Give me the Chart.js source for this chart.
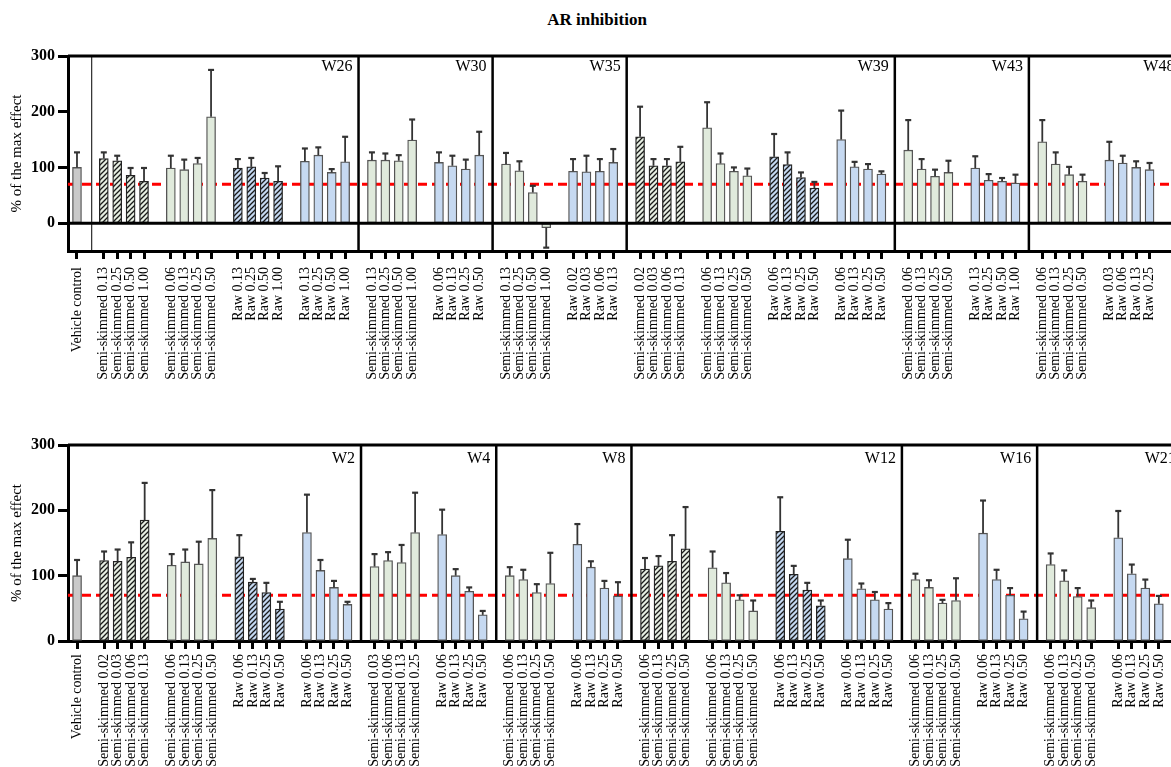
<!DOCTYPE html>
<html>
<head>
<meta charset="utf-8">
<script src="https://cdn.jsdelivr.net/npm/chart.js@4.4.1/dist/chart.umd.min.js"></script>
<style>
  html, body { margin: 0; padding: 0; background: #fff; }
  body { width: 1171px; height: 767px; position: relative; overflow: hidden; }
  #title { position: absolute; left: 597px; top: 10px; transform: translateX(-50%);
           font: bold 17px 'Liberation Serif', 'Times New Roman', serif; color: #000; }
  canvas { position: absolute; left: 0; }
  #topChart { top: 0; }
  #bottomChart { top: 395px; }
</style>
</head>
<body>
<div id="title">AR inhibition</div>
<canvas id="topChart" width="1171" height="395"></canvas>
<canvas id="bottomChart" width="1171" height="372"></canvas>
<script>
// AR inhibition - two panels, bars placed in slots: vehicle, gap, then groups of 4 with one gap between

// ---- top panel data
const topSections = ['W26', 'W30', 'W35', 'W39', 'W43', 'W48'];
const topSectionGroups = [4, 2, 2, 4, 2, 2];
const topGroupKinds = ['semiHatch', 'semi', 'rawHatch', 'raw', 'semi', 'raw', 'semi', 'raw',
  'semiHatch', 'semi', 'rawHatch', 'raw', 'semi', 'raw', 'semi', 'raw'];
const topLabels = [
  'Vehicle control',
  'Semi-skimmed 0.13', 'Semi-skimmed 0.25', 'Semi-skimmed 0.50', 'Semi-skimmed 1.00',
  'Semi-skimmed 0.06', 'Semi-skimmed 0.13', 'Semi-skimmed 0.25', 'Semi-skimmed 0.50',
  'Raw 0.13', 'Raw 0.25', 'Raw 0.50', 'Raw 1.00',
  'Raw 0.13', 'Raw 0.25', 'Raw 0.50', 'Raw 1.00',
  'Semi-skimmed 0.13', 'Semi-skimmed 0.25', 'Semi-skimmed 0.50', 'Semi-skimmed 1.00',
  'Raw 0.06', 'Raw 0.13', 'Raw 0.25', 'Raw 0.50',
  'Semi-skimmed 0.13', 'Semi-skimmed 0.25', 'Semi-skimmed 0.50', 'Semi-skimmed 1.00',
  'Raw 0.02', 'Raw 0.03', 'Raw 0.06', 'Raw 0.13',
  'Semi-skimmed 0.02', 'Semi-skimmed 0.03', 'Semi-skimmed 0.06', 'Semi-skimmed 0.13',
  'Semi-skimmed 0.06', 'Semi-skimmed 0.13', 'Semi-skimmed 0.25', 'Semi-skimmed 0.50',
  'Raw 0.06', 'Raw 0.13', 'Raw 0.25', 'Raw 0.50',
  'Raw 0.06', 'Raw 0.13', 'Raw 0.25', 'Raw 0.50',
  'Semi-skimmed 0.06', 'Semi-skimmed 0.13', 'Semi-skimmed 0.25', 'Semi-skimmed 0.50',
  'Raw 0.13', 'Raw 0.25', 'Raw 0.50', 'Raw 1.00',
  'Semi-skimmed 0.06', 'Semi-skimmed 0.13', 'Semi-skimmed 0.25', 'Semi-skimmed 0.50',
  'Raw 0.03', 'Raw 0.06', 'Raw 0.13', 'Raw 0.25'
];
const topValues = [100,
  116, 112, 86, 75, 99, 96, 107, 191, 99, 101, 81, 75, 111, 122, 91, 110,
  113, 113, 112, 149, 109, 103, 97, 122,
  106, 94, 55, -8, 93, 92, 93, 109,
  155, 103, 103, 110, 171, 107, 93, 85, 119, 105, 82, 63, 150, 101, 97, 88,
  131, 97, 84, 91, 99, 77, 75, 72,
  146, 106, 87, 75, 113, 108, 100, 96];
const topErrors = [27,
  11, 9, 13, 24, 22, 18, 10, 84, 16, 16, 9, 27, 23, 14, 6, 45,
  14, 12, 10, 37, 18, 18, 17, 42,
  20, 17, 12, 36, 22, 29, 22, 24,
  54, 12, 12, 27, 46, 18, 7, 13, 41, 22, 9, 11, 52, 9, 9, 5,
  54, 18, 12, 21, 21, 11, 6, 15,
  39, 21, 14, 12, 33, 13, 11, 12];

// ---- bottom panel data
const bottomSections = ['W2', 'W4', 'W8', 'W12', 'W16', 'W21'];
const bottomSectionGroups = [4, 2, 2, 4, 2, 2];
const bottomGroupKinds = ['semiHatch', 'semi', 'rawHatch', 'raw', 'semi', 'raw', 'semi', 'raw',
  'semiHatch', 'semi', 'rawHatch', 'raw', 'semi', 'raw', 'semi', 'raw'];
const bottomLabels = [
  'Vehicle control',
  'Semi-skimmed 0.02', 'Semi-skimmed 0.03', 'Semi-skimmed 0.06', 'Semi-skimmed 0.13',
  'Semi-skimmed 0.06', 'Semi-skimmed 0.13', 'Semi-skimmed 0.25', 'Semi-skimmed 0.50',
  'Raw 0.06', 'Raw 0.13', 'Raw 0.25', 'Raw 0.50',
  'Raw 0.06', 'Raw 0.13', 'Raw 0.25', 'Raw 0.50',
  'Semi-skimmed 0.03', 'Semi-skimmed 0.06', 'Semi-skimmed 0.13', 'Semi-skimmed 0.25',
  'Raw 0.06', 'Raw 0.13', 'Raw 0.25', 'Raw 0.50',
  'Semi-skimmed 0.06', 'Semi-skimmed 0.13', 'Semi-skimmed 0.25', 'Semi-skimmed 0.50',
  'Raw 0.06', 'Raw 0.13', 'Raw 0.25', 'Raw 0.50',
  'Semi-skimmed 0.06', 'Semi-skimmed 0.13', 'Semi-skimmed 0.25', 'Semi-skimmed 0.50',
  'Semi-skimmed 0.06', 'Semi-skimmed 0.13', 'Semi-skimmed 0.25', 'Semi-skimmed 0.50',
  'Raw 0.06', 'Raw 0.13', 'Raw 0.25', 'Raw 0.50',
  'Raw 0.06', 'Raw 0.13', 'Raw 0.25', 'Raw 0.50',
  'Semi-skimmed 0.06', 'Semi-skimmed 0.13', 'Semi-skimmed 0.25', 'Semi-skimmed 0.50',
  'Raw 0.06', 'Raw 0.13', 'Raw 0.25', 'Raw 0.50',
  'Semi-skimmed 0.06', 'Semi-skimmed 0.13', 'Semi-skimmed 0.25', 'Semi-skimmed 0.50',
  'Raw 0.06', 'Raw 0.13', 'Raw 0.25', 'Raw 0.50'
];
const bottomValues = [100,
  123, 122, 128, 185, 116, 121, 118, 157, 129, 90, 74, 49, 166, 108, 82, 56,
  114, 123, 120, 166, 163, 100, 76, 40,
  100, 94, 74, 88, 148, 113, 81, 69,
  110, 115, 122, 141, 112, 89, 63, 46, 168, 102, 78, 54, 126, 80, 63, 49,
  94, 82, 58, 62, 165, 94, 70, 34,
  117, 92, 68, 51, 158, 103, 81, 57];
const bottomErrors = [24,
  14, 18, 23, 57, 17, 19, 34, 74, 33, 5, 15, 11, 58, 16, 10, 4,
  19, 13, 27, 61, 38, 10, 6, 6,
  13, 15, 13, 47, 31, 9, 11, 21,
  17, 15, 40, 64, 25, 15, 7, 16, 52, 13, 11, 8, 29, 8, 12, 9,
  9, 11, 5, 34, 50, 15, 11, 11,
  17, 16, 13, 11, 41, 14, 13, 12];

const threshold = 70;
const yTicks = [0, 100, 200, 300];

const SERIF = "'Liberation Serif', 'Times New Roman', serif";

function hatch(bg) {
  const c = document.createElement('canvas');
  c.width = 5; c.height = 5;
  const g = c.getContext('2d');
  g.fillStyle = bg;
  g.fillRect(0, 0, 5, 5);
  g.strokeStyle = '#1a1a1a';
  g.lineWidth = 1.3;
  g.beginPath();
  g.moveTo(-1, 6); g.lineTo(6, -1);
  g.moveTo(-1, 1); g.lineTo(1, -1);
  g.moveTo(4, 6); g.lineTo(6, 4);
  g.stroke();
  return g.createPattern(c, 'repeat');
}

const kindStyle = {
  vehicle:   { fill: '#c9c9c9', border: '#555' },
  semiHatch: { fill: hatch('#e6eee2'), border: '#222' },
  semi:      { fill: '#e0eadc', border: '#555' },
  rawHatch:  { fill: hatch('#c4d8f1'), border: '#222' },
  raw:       { fill: '#c6d9f1', border: '#555' }
};

// Red dashed threshold line, error bars, frame, section separators and W-labels
const panelDeco = {
  id: 'panelDeco',
  beforeDatasetsDraw(chart) {
    const { ctx, chartArea: a, scales: { y } } = chart;
    const yy = y.getPixelForValue(threshold);
    ctx.save();
    ctx.strokeStyle = '#ff0000';
    ctx.lineWidth = 3;
    ctx.setLineDash([9, 5]);
    ctx.beginPath();
    ctx.moveTo(a.left, yy);
    ctx.lineTo(a.right, yy);
    ctx.stroke();
    ctx.restore();
  },
  afterDatasetsDraw(chart, args, o) {
    const { ctx, chartArea: a, scales: { x, y } } = chart;
    ctx.save();
    // error bars (away from zero)
    ctx.strokeStyle = '#333';
    chart.data.datasets.forEach((ds, di) => {
      const meta = chart.getDatasetMeta(di);
      meta.data.forEach((bar, i) => {
        const p = ds.data[i];
        const end = y.getPixelForValue(p.y + Math.sign(p.y) * p.err);
        ctx.lineWidth = 1.8;
        ctx.beginPath();
        ctx.moveTo(bar.x, bar.y);
        ctx.lineTo(bar.x, end);
        ctx.stroke();
        ctx.lineWidth = 2.2;
        ctx.beginPath();
        ctx.moveTo(bar.x - 3, end);
        ctx.lineTo(bar.x + 3, end);
        ctx.stroke();
      });
    });

    ctx.strokeStyle = '#000';
    ctx.lineWidth = 3;
    ctx.beginPath();
    ctx.moveTo(a.left, a.top);
    ctx.lineTo(a.right, a.top);
    if (y.min < 0) {
      const y0 = y.getPixelForValue(0);
      ctx.moveTo(a.left, y0);
      ctx.lineTo(a.right, y0);
    }
    ctx.stroke();

    ctx.lineWidth = 2.5;
    ctx.beginPath();
    o.separators.forEach(s => {
      const px = x.getPixelForValue(s);
      ctx.moveTo(px, a.top);
      ctx.lineTo(px, a.bottom);
    });
    ctx.stroke();

    if (o.thinLine != null) {
      const px = x.getPixelForValue(o.thinLine);
      ctx.lineWidth = 1;
      ctx.beginPath();
      ctx.moveTo(px, a.top);
      ctx.lineTo(px, a.bottom);
      ctx.stroke();
    }

    ctx.fillStyle = '#000';
    ctx.font = '16px ' + SERIF;
    ctx.textAlign = 'right';
    ctx.textBaseline = 'middle';
    o.sections.forEach((name, k) => {
      const edge = k < o.separators.length ? o.separators[k] : o.lastEdge;
      ctx.fillText(name, x.getPixelForValue(edge) - 6, a.top + o.labelDy);
    });
    ctx.restore();
  }
};

function makePanel(id, p) {
  // slot numbers: vehicle at 0, group g starts at 2 + 5g
  const sets = {};
  Object.keys(kindStyle).forEach(k => { sets[k] = []; });
  const slotLabel = {};
  const slots = [0];
  slotLabel[0] = p.labels[0];
  sets.vehicle.push({ x: 0, y: p.values[0], err: p.errors[0] });
  p.groupKinds.forEach((kind, g) => {
    for (let j = 0; j < 4; j++) {
      const i = 1 + g * 4 + j;
      const s = 2 + g * 5 + j;
      slots.push(s);
      slotLabel[s] = p.labels[i];
      sets[kind].push({ x: s, y: p.values[i], err: p.errors[i] });
    }
  });
  const separators = [];
  let cum = 0;
  p.sectionGroups.slice(0, -1).forEach(n => { cum += n; separators.push(5 * cum + 1); });

  const datasets = Object.keys(sets).map(k => ({
    label: k,
    data: sets[k],
    backgroundColor: kindStyle[k].fill,
    borderColor: kindStyle[k].border,
    borderWidth: 1.3,
    borderSkipped: false,
    barThickness: 9,
    grouped: false
  }));

  return new Chart(document.getElementById(id), {
    type: 'bar',
    data: { datasets },
    plugins: [panelDeco],
    options: {
      responsive: false,
      animation: false,
      layout: { padding: { top: p.padTop, left: 0, right: 0, bottom: 0 } },
      plugins: {
        legend: { display: false },
        tooltip: { enabled: false },
        panelDeco: {
          separators,
          sections: p.sections,
          lastEdge: p.lastEdge,
          thinLine: p.thinLine,
          labelDy: p.labelDy
        }
      },
      scales: {
        x: {
          type: 'linear',
          min: p.xMin,
          max: p.xMax,
          offset: false,
          afterBuildTicks: s => { s.ticks = slots.map(v => ({ value: v })); },
          afterFit: s => { s.height = p.xHeight; s.paddingLeft = 0; s.paddingRight = 0; },
          ticks: {
            autoSkip: false,
            minRotation: 90,
            maxRotation: 90,
            padding: p.labelPad,
            color: '#000',
            font: { family: SERIF, size: 14 },
            callback: v => slotLabel[v]
          },
          grid: { drawOnChartArea: false, offset: false, tickLength: 8, tickWidth: 3, tickColor: '#000' },
          border: { width: 3, color: '#000' }
        },
        y: {
          min: p.yMin,
          max: 300,
          afterBuildTicks: s => { s.ticks = yTicks.map(v => ({ value: v })); },
          afterFit: s => { s.width = 68; },
          ticks: {
            color: '#000',
            padding: 3,
            font: { family: SERIF, size: 16, weight: 'bold' }
          },
          grid: { drawOnChartArea: false, tickLength: 10, tickWidth: 3, tickColor: '#000' },
          border: { width: 3, color: '#000' },
          title: {
            display: true,
            text: '% of the max effect',
            color: '#000',
            font: { family: SERIF, size: 15 },
            padding: { top: 8, bottom: 0 }
          }
        }
      }
    }
  });
}

makePanel('topChart', {
  sections: topSections, sectionGroups: topSectionGroups, groupKinds: topGroupKinds,
  labels: topLabels, values: topValues, errors: topErrors,
  yMin: -50, xMin: -0.67, xMax: 81.6, lastEdge: 82.3, thinLine: 1.1,
  padTop: 56, xHeight: 144, labelDy: 11, labelPad: 8
});

makePanel('bottomChart', {
  sections: bottomSections, sectionGroups: bottomSectionGroups, groupKinds: bottomGroupKinds,
  labels: bottomLabels, values: bottomValues, errors: bottomErrors,
  yMin: 0, xMin: -0.67, xMax: 80.9, lastEdge: 81.7, thinLine: null,
  padTop: 50, xHeight: 126, labelDy: 14, labelPad: 5
});
</script>
</body>
</html>
